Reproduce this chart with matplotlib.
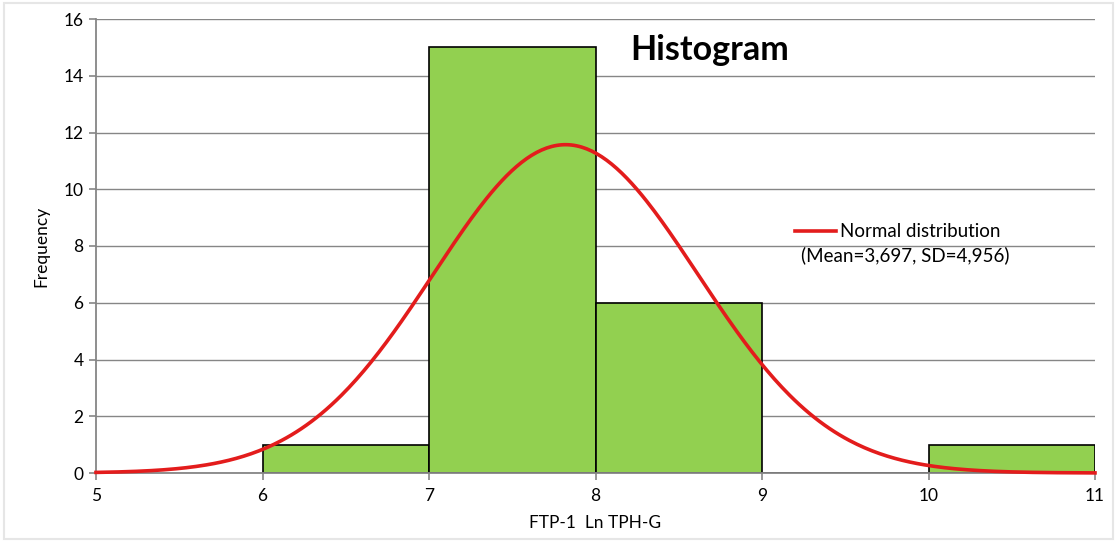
import numpy as np
import matplotlib.pyplot as plt
from matplotlib.lines import Line2D
from matplotlib.patches import Rectangle

plt.rcParams['font.family'] = ['Lato', 'DejaVu Sans']

# histogram data
bin_edges = [6, 7, 8, 9, 10, 11]
counts = [1, 15, 6, 0, 1]

# fitted normal curve
fit_mean = 7.82
fit_sd = 0.793
n_obs = 23
bin_width = 1.0

x_ticks = [5, 6, 7, 8, 9, 10, 11]
y_ticks = [0, 2, 4, 6, 8, 10, 12, 14, 16]

W, H = 1115, 541
fig = plt.figure(figsize=(W / 100, H / 100), dpi=100)
ax = fig.add_axes([96 / W, 1 - 473 / H, (1095 - 96) / W, (473 - 19) / H])

grey = '#868686'
ax.set_xlim(5, 11)
ax.set_ylim(0, 16)
ax.set_yticks(y_ticks)
ax.set_xticks(x_ticks)
ax.grid(axis='y', color=grey, linewidth=1.0)
ax.set_axisbelow(True)
for s in ['top', 'right']:
    ax.spines[s].set_visible(False)
for s in ['left', 'bottom']:
    ax.spines[s].set_color(grey)
    ax.spines[s].set_linewidth(1.3)
ax.tick_params(axis='both', direction='out', length=5, color=grey, labelsize=12.5, width=1.2)
ax.tick_params(axis='y', pad=4)
ax.tick_params(axis='x', pad=6)

lefts = bin_edges[:-1]
widths = np.diff(bin_edges)
ax.bar(lefts, counts, width=widths, align='edge', color='#92D050',
       edgecolor='black', linewidth=1.2, zorder=2)

xs = np.linspace(5, 11, 400)
ys = n_obs * bin_width / (fit_sd * np.sqrt(2 * np.pi)) * np.exp(-0.5 * ((xs - fit_mean) / fit_sd) ** 2)
ax.plot(xs, ys, color='#E31C1C', linewidth=2.6, zorder=3, clip_on=False)

ax.set_xlabel('FTP-1  Ln TPH-G', fontsize=12.5, labelpad=8)
ax.set_ylabel('Frequency', fontsize=12.5, labelpad=10)

fig.text(710 / W, 1 - 50 / H, 'Histogram', fontsize=24.5, fontweight='bold',
         ha='center', va='center')

# legend drawn by hand
fig.add_artist(Line2D([795 / W, 836 / W], [1 - 231 / H, 1 - 231 / H],
                      color='#E31C1C', linewidth=2.6))
fig.text(840 / W, 1 - 231 / H, 'Normal distribution', fontsize=13.5, va='center', ha='left')
fig.text(905 / W, 1 - 255 / H, '(Mean=3,697, SD=4,956)', fontsize=13.5, va='center', ha='center')

# light frame round the chart
fig.add_artist(Rectangle((4 / W, 2 / H), 1 - 6 / W, 1 - 5 / H, transform=fig.transFigure,
                         fill=False, edgecolor='#E6E6E6', linewidth=1.5))

fig.savefig('out.png', dpi=100)
